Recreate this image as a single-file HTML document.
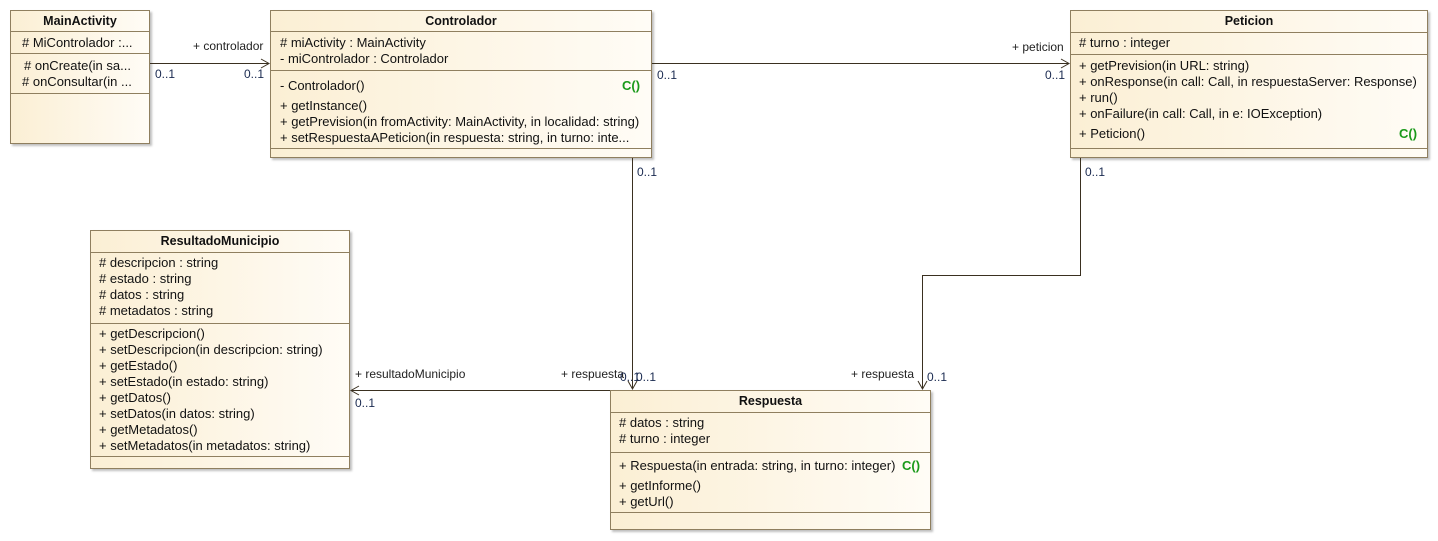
<!DOCTYPE html>
<html><head><meta charset="utf-8"><style>
body{margin:0;width:1438px;height:541px;background:#fff;position:relative;overflow:hidden;font-family:"Liberation Sans",sans-serif;}
.box{position:absolute;border:1px solid #8f7f5f;background:linear-gradient(to right,#fbefd4,#fffcf6);box-shadow:2px 2px 2px rgba(0,0,0,0.25);box-sizing:border-box;}
.t{position:absolute;font-size:13px;line-height:16px;color:#111;white-space:nowrap;}
.h{font-weight:bold;text-align:center;font-size:12.5px;}
.c{color:#1a9a1a;font-weight:bold;}
.l{position:absolute;font-size:12px;line-height:13px;color:#222;white-space:nowrap;}
.m{color:#1a2a50;}
svg{position:absolute;left:0;top:0;}
</style></head><body>
<div class="box" style="left:10px;top:10px;width:140px;height:134px"></div>
<div class="box" style="left:270px;top:10px;width:382px;height:148px"></div>
<div class="box" style="left:1070px;top:10px;width:358px;height:148px"></div>
<div class="box" style="left:90px;top:230px;width:260px;height:239px"></div>
<div class="box" style="left:610px;top:390px;width:321px;height:140px"></div>

<svg width="1438" height="541" viewBox="0 0 1438 541">
<g stroke="#8f7f5f" stroke-width="1">
<line x1="10" y1="31.5" x2="150" y2="31.5"/><line x1="10" y1="53.5" x2="150" y2="53.5"/><line x1="10" y1="93.5" x2="150" y2="93.5"/>
<line x1="270" y1="31.5" x2="652" y2="31.5"/><line x1="270" y1="70.5" x2="652" y2="70.5"/><line x1="270" y1="148.5" x2="652" y2="148.5"/>
<line x1="1070" y1="32.5" x2="1428" y2="32.5"/><line x1="1070" y1="54.5" x2="1428" y2="54.5"/><line x1="1070" y1="148.5" x2="1428" y2="148.5"/>
<line x1="90" y1="252.5" x2="350" y2="252.5"/><line x1="90" y1="323.5" x2="350" y2="323.5"/><line x1="90" y1="456.5" x2="350" y2="456.5"/>
<line x1="610" y1="412.5" x2="931" y2="412.5"/><line x1="610" y1="452.5" x2="931" y2="452.5"/><line x1="610" y1="512.5" x2="931" y2="512.5"/>
</g>
<g stroke="#3a3020" stroke-width="1" fill="none">
<line x1="150" y1="63.5" x2="269" y2="63.5"/><polyline points="261,59 269,63.5 261,68"/>
<line x1="652" y1="63.5" x2="1069" y2="63.5"/><polyline points="1061,59 1069,63.5 1061,68"/>
<line x1="632.5" y1="158" x2="632.5" y2="389"/><polyline points="628,381 632.5,389 637,381"/>
<polyline points="1080.5,158 1080.5,275.5 922.5,275.5 922.5,389"/><polyline points="918,381 922.5,389 927,381"/>
<line x1="610" y1="390.5" x2="351" y2="390.5"/><polyline points="359,386 351,390.5 359,395"/>
</g>
</svg>

<!-- MainActivity -->
<div class="t h" style="left:10px;width:140px;top:13px">MainActivity</div>
<div class="t" style="left:22px;top:35px"># MiControlador :...</div>
<div class="t" style="left:24px;top:58px"># onCreate(in sa...</div>
<div class="t" style="left:22px;top:74px"># onConsultar(in ...</div>

<!-- Controlador -->
<div class="t h" style="left:270px;width:382px;top:13px">Controlador</div>
<div class="t" style="left:280px;top:35px"># miActivity : MainActivity</div>
<div class="t" style="left:280px;top:51px">- miControlador : Controlador</div>
<div class="t" style="left:280px;top:78px">- Controlador()</div>
<div class="t c" style="left:622px;top:78px">C()</div>
<div class="t" style="left:280px;top:98px">+ getInstance()</div>
<div class="t" style="left:280px;top:114px">+ getPrevision(in fromActivity: MainActivity, in localidad: string)</div>
<div class="t" style="left:280px;top:130px">+ setRespuestaAPeticion(in respuesta: string, in turno: inte...</div>

<!-- Peticion -->
<div class="t h" style="left:1070px;width:358px;top:13px">Peticion</div>
<div class="t" style="left:1079px;top:35px"># turno : integer</div>
<div class="t" style="left:1079px;top:58px">+ getPrevision(in URL: string)</div>
<div class="t" style="left:1079px;top:74px">+ onResponse(in call: Call, in respuestaServer: Response)</div>
<div class="t" style="left:1079px;top:90px">+ run()</div>
<div class="t" style="left:1079px;top:106px">+ onFailure(in call: Call, in e: IOException)</div>
<div class="t" style="left:1079px;top:126px">+ Peticion()</div>
<div class="t c" style="left:1399px;top:126px">C()</div>

<!-- ResultadoMunicipio -->
<div class="t h" style="left:90px;width:260px;top:233px">ResultadoMunicipio</div>
<div class="t" style="left:99px;top:255px"># descripcion : string</div>
<div class="t" style="left:99px;top:271px"># estado : string</div>
<div class="t" style="left:99px;top:287px"># datos : string</div>
<div class="t" style="left:99px;top:303px"># metadatos : string</div>
<div class="t" style="left:99px;top:326px">+ getDescripcion()</div>
<div class="t" style="left:99px;top:342px">+ setDescripcion(in descripcion: string)</div>
<div class="t" style="left:99px;top:358px">+ getEstado()</div>
<div class="t" style="left:99px;top:374px">+ setEstado(in estado: string)</div>
<div class="t" style="left:99px;top:390px">+ getDatos()</div>
<div class="t" style="left:99px;top:406px">+ setDatos(in datos: string)</div>
<div class="t" style="left:99px;top:422px">+ getMetadatos()</div>
<div class="t" style="left:99px;top:438px">+ setMetadatos(in metadatos: string)</div>

<!-- Respuesta -->
<div class="t h" style="left:610px;width:321px;top:393px">Respuesta</div>
<div class="t" style="left:619px;top:415px"># datos : string</div>
<div class="t" style="left:619px;top:431px"># turno : integer</div>
<div class="t" style="left:619px;top:458px">+ Respuesta(in entrada: string, in turno: integer)</div>
<div class="t c" style="left:902px;top:458px">C()</div>
<div class="t" style="left:619px;top:478px">+ getInforme()</div>
<div class="t" style="left:619px;top:494px">+ getUrl()</div>

<!-- labels -->
<div class="l" style="left:193px;top:40px">+ controlador</div>
<div class="l m" style="left:155px;top:68px">0..1</div>
<div class="l m" style="left:244px;top:68px">0..1</div>
<div class="l" style="left:1012px;top:41px">+ peticion</div>
<div class="l m" style="left:657px;top:69px">0..1</div>
<div class="l m" style="left:1045px;top:69px">0..1</div>
<div class="l m" style="left:637px;top:166px">0..1</div>
<div class="l m" style="left:1085px;top:166px">0..1</div>
<div class="l" style="left:561px;top:368px">+ respuesta</div>
<div class="l m" style="left:620px;top:371px">0..1</div>
<div class="l m" style="left:636px;top:371px">0..1</div>
<div class="l" style="left:851px;top:368px">+ respuesta</div>
<div class="l m" style="left:927px;top:371px">0..1</div>
<div class="l" style="left:355px;top:368px">+ resultadoMunicipio</div>
<div class="l m" style="left:355px;top:397px">0..1</div>
</body></html>
